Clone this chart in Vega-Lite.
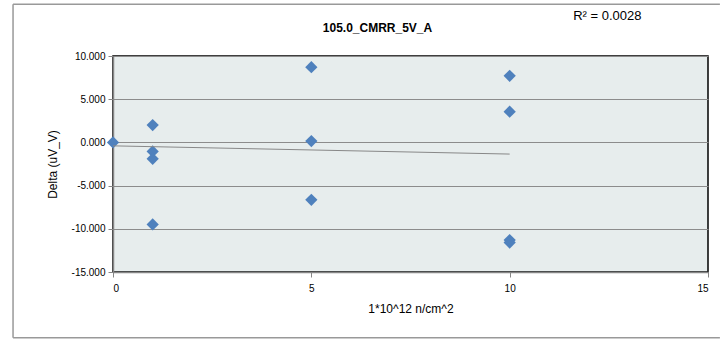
{
  "$schema": "https://vega.github.io/schema/vega-lite/v6.json",
  "width": 595,
  "height": 216,
  "autosize": {"type": "none"},
  "padding": {"left": 113, "top": 56, "right": 19, "bottom": 69},
  "background": "white",
  "config": {
    "font": "Liberation Sans",
    "locale": {"number": {"decimal": ".", "thousands": ",", "grouping": [3], "currency": ["$", ""], "minus": "-"}},
    "view": {"fill": "#E7EDED", "stroke": "#000000", "strokeWidth": 1.5},
    "axis": {"labelFont": "Liberation Sans", "titleFont": "Liberation Sans", "labelFontSize": 10, "titleFontSize": 12, "titleFontWeight": "normal", "labelColor": "#000", "titleColor": "#000"}
  },
  "title": {"text": "105.0_CMRR_5V_A", "fontSize": 12, "fontWeight": "bold", "font": "Liberation Sans", "anchor": "middle", "dx": -33, "offset": -32, "color": "#000"},
  "datasets": {
    "points": [
      {"x": 0, "y": 0.0},
      {"x": 1, "y": 2.0},
      {"x": 1, "y": -1.05},
      {"x": 1, "y": -1.9},
      {"x": 1, "y": -9.5},
      {"x": 5, "y": 8.7},
      {"x": 5, "y": 0.15},
      {"x": 5, "y": -6.65},
      {"x": 10, "y": 7.7},
      {"x": 10, "y": 3.55},
      {"x": 10, "y": -11.3},
      {"x": 10, "y": -11.6}
    ],
    "trend": [
      {"x": 0, "y": -0.4},
      {"x": 10, "y": -1.35}
    ],
    "label": [{"x": 11.6, "y": 14.6, "text": "R² = 0.0028"}],
    "frame": [
      {"x": -2.52, "x2": 15.3, "y": 16.0, "y2": 16.0},
      {"x": -2.52, "x2": -2.52, "y": 16.0, "y2": -22.6},
      {"x": -2.52, "x2": 15.3, "y": -22.6, "y2": -22.6}
    ]
  },
  "layer": [
    {
      "data": {"name": "frame"},
      "mark": {"type": "rule", "stroke": "#999999", "strokeWidth": 1.5, "clip": false},
      "encoding": {
        "x": {"field": "x", "type": "quantitative", "scale": {"domain": [0, 15], "nice": false}},
        "x2": {"field": "x2"},
        "y": {"field": "y", "type": "quantitative", "scale": {"domain": [-15, 10], "nice": false}},
        "y2": {"field": "y2"}
      }
    },
    {
      "data": {"name": "points"},
      "mark": {"type": "point", "shape": "diamond", "filled": true, "size": 150, "color": "#4F81BD", "opacity": 1},
      "encoding": {
        "x": {"field": "x", "type": "quantitative", "scale": {"domain": [0, 15], "nice": false},
          "axis": {"title": "1*10^12 n/cm^2", "values": [0, 5, 10, 15], "grid": false, "domainColor": "#868686", "domainWidth": 1.5, "tickColor": "#868686", "tickSize": 5, "labelPadding": 6, "titlePadding": 10}},
        "y": {"field": "y", "type": "quantitative", "scale": {"domain": [-15, 10], "nice": false},
          "axis": {"title": "Delta (uV_V)", "values": [-15, -10, -5, 0, 5, 10], "format": ".3f", "gridColor": "#8C8C8C", "gridWidth": 1, "domainColor": "#868686", "domainWidth": 1.5, "tickColor": "#868686", "tickSize": 5, "labelPadding": 3, "titlePadding": 12}}
      }
    },
    {
      "data": {"name": "trend"},
      "mark": {"type": "line", "color": "#888888", "strokeWidth": 1},
      "encoding": {
        "x": {"field": "x", "type": "quantitative"},
        "y": {"field": "y", "type": "quantitative"}
      }
    },
    {
      "data": {"name": "label"},
      "mark": {"type": "text", "fontSize": 13, "font": "Liberation Sans", "align": "left", "baseline": "middle", "clip": false, "color": "#000"},
      "encoding": {
        "x": {"field": "x", "type": "quantitative"},
        "y": {"field": "y", "type": "quantitative"},
        "text": {"field": "text"}
      }
    }
  ]
}
